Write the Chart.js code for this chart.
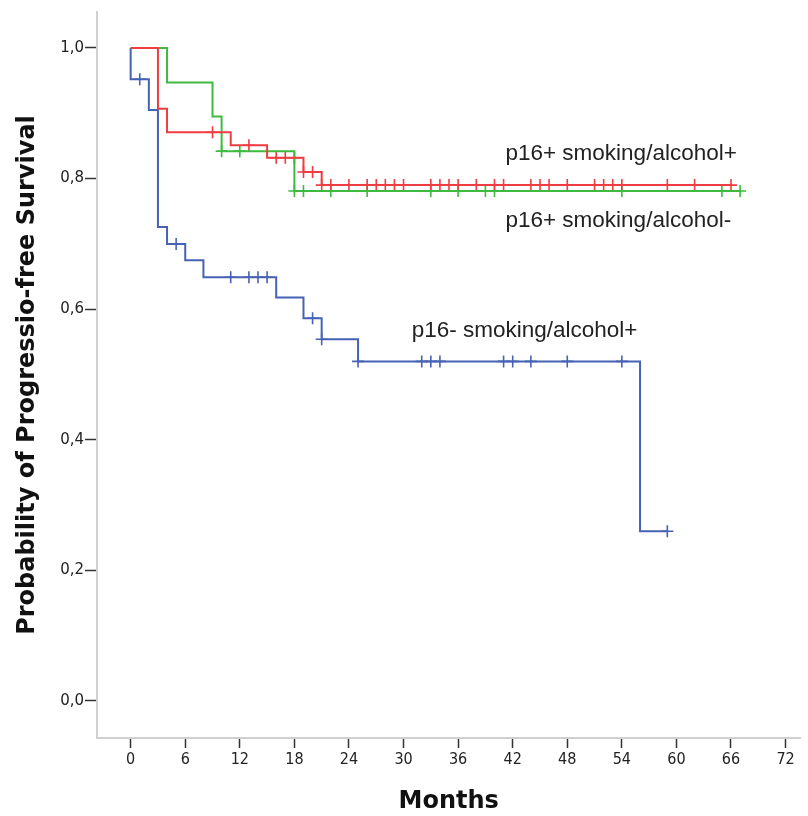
<!DOCTYPE html>
<html>
<head>
<meta charset="utf-8">
<script src="https://cdn.jsdelivr.net/npm/chart.js@4"></script>
<style>
  body { margin: 0; background: #fff; }
  canvas { display: block; }
</style>
</head>
<body>
<canvas id="pfsChart" width="808" height="816"></canvas>
<script>
// x axis ticks (months)
const monthTicks = [0, 6, 12, 18, 24, 30, 36, 42, 48, 54, 60, 66, 72];
const probTicks = [0, 0.2, 0.4, 0.6, 0.8, 1.0];

// p16- smoking/alcohol+
const negEventTimes = [0, 2, 3, 4, 6, 8, 16, 19, 21, 25, 56];
const negSurvival = [0.952, 0.905, 0.726, 0.700, 0.675, 0.649, 0.618, 0.586, 0.554, 0.520, 0.260];
const negCensored = [1, 5, 11, 13, 14, 15, 20, 21, 25, 32, 33, 34, 41, 42, 44, 48, 54, 59];

// p16+ smoking/alcohol+
const posSmokeEventTimes = [3, 4, 11, 15, 19, 21];
const posSmokeSurvival = [0.907, 0.871, 0.851, 0.832, 0.810, 0.790];
const posSmokeCensored = [9, 13, 16, 17, 18, 19, 20, 21, 22, 24, 26, 27, 28, 29, 30, 33, 34, 35, 36, 38,
    40, 41, 44, 45, 46, 48, 51, 52, 53, 54, 59, 62, 66];

// p16+ smoking/alcohol-
const posNoSmokeEventTimes = [4, 9, 10, 18];
const posNoSmokeSurvival = [0.947, 0.895, 0.842, 0.781];
const posNoSmokeCensored = [10, 12, 18, 19, 22, 26, 33, 36, 39, 40, 54, 65, 67];

const groupLabels = ['p16- smoking/alcohol+', 'p16+ smoking/alcohol+', 'p16+ smoking/alcohol-'];

const BLUE = 'rgb(70, 98, 180)';
const RED = 'rgb(238, 60, 64)';
const GREEN = 'rgb(62, 186, 62)';

// step curve points: starts at 1.0, one point per event, runs out to the last follow-up
function curvePoints(times, surv, lastTime) {
    const pts = [{ x: 0, y: 1 }];
    times.forEach((t, i) => pts.push({ x: t, y: surv[i] }));
    pts.push({ x: lastTime, y: surv[surv.length - 1] });
    return pts;
}

function survivalAt(t, times, surv) {
    let s = 1;
    times.forEach((et, i) => { if (et <= t) s = surv[i]; });
    return s;
}

function censorPoints(censored, times, surv) {
    return censored.map(t => ({ x: t, y: survivalAt(t, times, surv) }));
}

function lineSet(label, pts, color) {
    return {
        label: label,
        data: pts,
        borderColor: color,
        borderWidth: 2,
        stepped: 'before',
        pointRadius: 0,
        fill: false
    };
}

function censorSet(label, pts, color) {
    return {
        label: label + ' censored',
        data: pts,
        showLine: false,
        pointStyle: 'cross',
        pointRadius: 6,
        pointBorderWidth: 1.6,
        pointBorderColor: color,
        pointBackgroundColor: color
    };
}

const negMax = negCensored[negCensored.length - 1];
const smokeMax = posSmokeCensored[posSmokeCensored.length - 1];
const noSmokeMax = posNoSmokeCensored[posNoSmokeCensored.length - 1];

// curve names written beside the lines (x in months, y = baseline level)
const curveNotes = [
    { text: groupLabels[1], x: 41.2, y: 0.8285 },
    { text: groupLabels[2], x: 41.2, y: 0.7264 },
    { text: groupLabels[0], x: 30.9, y: 0.557 }
];

const curveNotePlugin = {
    id: 'curveNotes',
    afterDatasetsDraw(chart) {
        const { ctx, scales } = chart;
        ctx.save();
        ctx.fillStyle = '#222';
        ctx.font = '22.5px "Liberation Sans", Arial, sans-serif';
        ctx.textBaseline = 'alphabetic';
        ctx.textAlign = 'left';
        curveNotes.forEach(n => {
            ctx.fillText(n.text, scales.x.getPixelForValue(n.x), scales.y.getPixelForValue(n.y));
        });
        ctx.restore();
    }
};

const ctx = document.getElementById('pfsChart').getContext('2d');

new Chart(ctx, {
    type: 'line',
    data: {
        datasets: [
            lineSet(groupLabels[1], curvePoints(posSmokeEventTimes, posSmokeSurvival, smokeMax), RED),
            lineSet(groupLabels[2], curvePoints(posNoSmokeEventTimes, posNoSmokeSurvival, noSmokeMax), GREEN),
            lineSet(groupLabels[0], curvePoints(negEventTimes, negSurvival, negMax), BLUE),
            censorSet(groupLabels[1], censorPoints(posSmokeCensored, posSmokeEventTimes, posSmokeSurvival), RED),
            censorSet(groupLabels[2], censorPoints(posNoSmokeCensored, posNoSmokeEventTimes, posNoSmokeSurvival), GREEN),
            censorSet(groupLabels[0], censorPoints(negCensored, negEventTimes, negSurvival), BLUE)
        ]
    },
    options: {
        responsive: false,
        animation: false,
        layout: { padding: { top: 12, right: 0, left: 0, bottom: 0 } },
        plugins: {
            legend: { display: false },
            tooltip: { enabled: false }
        },
        scales: {
            x: {
                type: 'linear',
                min: -3.7,
                max: 73.63,
                afterBuildTicks: axis => { axis.ticks = monthTicks.map(v => ({ value: v })); },
                afterFit: axis => { axis.height = 78; },
                grid: {
                    drawOnChartArea: false,
                    drawTicks: true,
                    tickLength: 10,
                    tickWidth: 1.5,
                    tickColor: '#333'
                },
                border: { color: '#d0d0d0', width: 2 },
                ticks: {
                    padding: 2,
                    color: '#222',
                    font: { family: '"DejaVu Sans Condensed", sans-serif', size: 16 },
                    callback: v => String(v)
                },
                title: {
                    display: true,
                    text: 'Months',
                    color: '#111',
                    padding: { top: 0, bottom: 0 },
                    font: { family: '"DejaVu Sans", sans-serif', size: 24, weight: 'bold' }
                }
            },
            y: {
                min: -0.0567,
                max: 1.0551,
                afterBuildTicks: axis => { axis.ticks = probTicks.map(v => ({ value: v })); },
                afterFit: axis => { axis.width = 97; },
                grid: {
                    drawOnChartArea: false,
                    drawTicks: true,
                    tickLength: 12,
                    tickWidth: 1.5,
                    tickColor: '#333'
                },
                border: { color: '#d0d0d0', width: 2 },
                ticks: {
                    padding: 1,
                    color: '#222',
                    font: { family: '"DejaVu Sans", sans-serif', size: 15 },
                    callback: v => v.toFixed(1).replace('.', ',')
                },
                title: {
                    display: true,
                    text: 'Probability of Progressio-free Survival',
                    color: '#111',
                    padding: { top: 13, bottom: 0 },
                    font: { family: '"DejaVu Sans", sans-serif', size: 24, weight: 'bold' }
                }
            }
        }
    },
    plugins: [curveNotePlugin]
});
</script>
</body>
</html>
